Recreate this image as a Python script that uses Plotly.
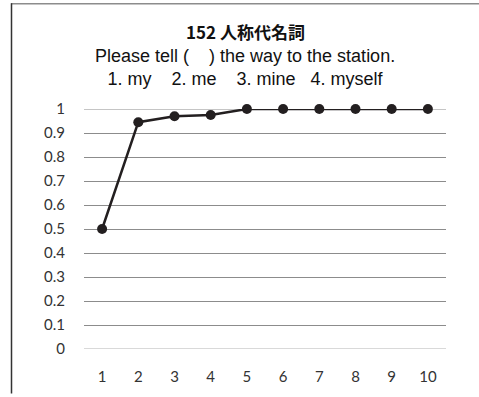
import plotly.graph_objects as go

# Item 152 response rates by position
positions = [1, 2, 3, 4, 5, 6, 7, 8, 9, 10]
rates = [0.5, 0.945, 0.97, 0.975, 1, 1, 1, 1, 1, 1]
y_ticks = [0, 0.1, 0.2, 0.3, 0.4, 0.5, 0.6, 0.7, 0.8, 0.9, 1]
y_tick_text = ["0", "0.1", "0.2", "0.3", "0.4", "0.5", "0.6", "0.7", "0.8", "0.9", "1"]

W, H = 479, 397
L, R, T, B = 84, 33, 109, 45
pw, ph = W - L - R, H - T - B

def px_x(p):
    return (p - L) / pw

def px_y(p):
    return (H - B - p) / ph

fig = go.Figure()
fig.add_trace(go.Scatter(
    x=positions, y=rates, mode="lines+markers",
    line=dict(color="#231f20", width=2.5),
    marker=dict(color="#231f20", size=10),
    cliponaxis=False, showlegend=False,
))

fig.update_layout(
    width=W, height=H,
    margin=dict(l=L, r=R, t=T, b=B),
    paper_bgcolor="white", plot_bgcolor="white",
    font=dict(family="Lato, Open Sans, sans-serif", color="#333333", size=15),
    xaxis=dict(
        range=[0.5, 10.5], tickvals=positions, ticktext=[str(p) for p in positions],
        showgrid=False, zeroline=False, showline=False,
        ticks="outside", ticklen=14, tickcolor="rgba(0,0,0,0)",
        tickfont=dict(size=15, color="#333333"),
    ),
    yaxis=dict(
        range=[0, 1], tickvals=y_ticks, ticktext=y_tick_text,
        showgrid=True, gridcolor="#8c8c8c", gridwidth=1,
        zeroline=False, showline=False, ticks="outside", ticklen=15,
        tickcolor="rgba(0,0,0,0)",
        tickfont=dict(size=15, color="#333333"),
    ),
    shapes=[
        # light baseline at zero
        dict(type="line", xref="paper", yref="y", x0=0, x1=1, y0=0, y1=0,
             line=dict(color="#d9d9d9", width=2), layer="below"),
        # gridline at the top of the value range
        dict(type="line", xref="paper", yref="y", x0=0, x1=1, y0=1, y1=1,
             line=dict(color="#8c8c8c", width=1), layer="below"),
        # frame lines along the top and left edges
        dict(type="line", xref="paper", yref="paper",
             x0=px_x(11), x1=px_x(W), y0=px_y(2.5), y1=px_y(2.5),
             line=dict(color="#8c8c8c", width=1.5)),
        dict(type="line", xref="paper", yref="paper",
             x0=px_x(11.5), x1=px_x(11.5), y0=px_y(2), y1=px_y(H),
             line=dict(color="#333333", width=1.5)),
    ],
    annotations=[
        dict(text="<b>152 人称代名詞</b>", xref="paper", yref="paper",
             x=px_x(245), y=px_y(31), xanchor="center", yanchor="middle",
             showarrow=False,
             font=dict(family="Noto Sans CJK JP, sans-serif", size=17, color="#111111")),
        dict(text="Please tell (    ) the way to the station.<br>1. my    2. me    3. mine   4. myself",
             xref="paper", yref="paper",
             x=px_x(245), y=px_y(67), xanchor="center", yanchor="middle",
             showarrow=False, align="center",
             font=dict(family="Liberation Sans, Arial, sans-serif", size=18, color="#111111")),
    ],
)

fig.write_html("out.html")
